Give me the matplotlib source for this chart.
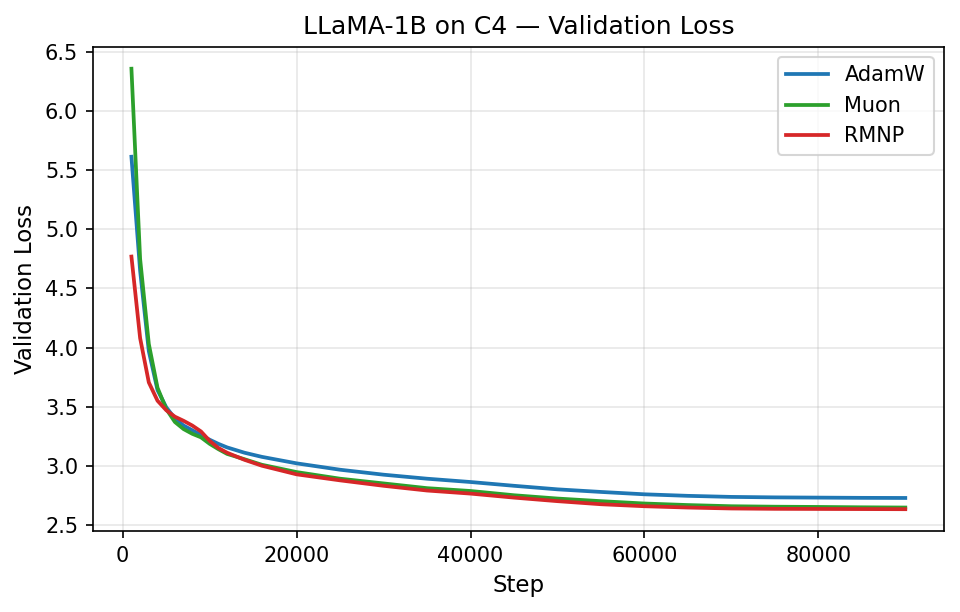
import numpy as np
import matplotlib
matplotlib.use("Agg")
import matplotlib.pyplot as plt

# validation loss
steps = [1000, 2000, 3000, 4000, 5000, 6000, 7000, 8000, 9000, 10000,
         11000, 12000, 14000, 16000, 20000, 25000, 30000, 35000, 40000,
         45000, 50000, 55000, 60000, 65000, 70000, 75000, 80000, 85000, 90000]

adamw = [5.615, 4.65, 3.97, 3.64, 3.495, 3.40, 3.34, 3.30, 3.26, 3.22,
         3.185, 3.155, 3.11, 3.075, 3.02, 2.966, 2.924, 2.89, 2.862,
         2.83, 2.80, 2.778, 2.758, 2.745, 2.736, 2.732, 2.73, 2.728, 2.727]

muon = [6.36, 4.75, 4.03, 3.66, 3.48, 3.37, 3.31, 3.27, 3.24, 3.185,
        3.14, 3.10, 3.055, 3.008, 2.946, 2.89, 2.85, 2.81, 2.786,
        2.75, 2.722, 2.70, 2.68, 2.667, 2.657, 2.653, 2.651, 2.648, 2.646]

rmnp = [4.77, 4.08, 3.705, 3.55, 3.47, 3.415, 3.38, 3.34, 3.29, 3.21,
        3.15, 3.11, 3.05, 3.00, 2.927, 2.876, 2.83, 2.79, 2.764,
        2.73, 2.70, 2.674, 2.657, 2.646, 2.638, 2.635, 2.634, 2.633, 2.632]

fig = plt.figure(figsize=(6.4, 4.08), dpi=150)
ax = fig.add_subplot(111)

ax.plot(steps, adamw, color="tab:blue", lw=1.8, label="AdamW")
ax.plot(steps, muon, color="tab:green", lw=1.8, label="Muon")
ax.plot(steps, rmnp, color="tab:red", lw=1.8, label="RMNP")

ax.set_xlabel("Step", fontsize=11)
ax.set_ylabel("Validation Loss", fontsize=11)
ax.set_title("LLaMA-1B on C4 \u2014 Validation Loss", fontsize=12)
ax.set_yticks(np.arange(2.5, 6.51, 0.5))
ax.grid(True, alpha=0.3)
ax.legend(loc="upper right", fontsize=10)

fig.subplots_adjust(left=0.0966, right=0.9833, top=0.9237, bottom=0.132)
fig.savefig("out.png", dpi=150)
